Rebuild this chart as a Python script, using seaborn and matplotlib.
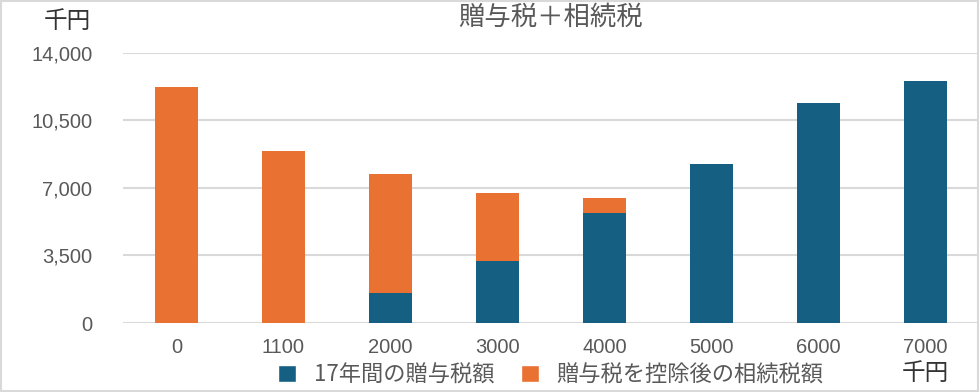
import matplotlib
matplotlib.use("Agg")
import matplotlib.pyplot as plt
from matplotlib.patches import Patch, Rectangle
import seaborn as sns
import pandas as pd

categories = ["0", "1100", "2000", "3000", "4000", "5000", "6000", "7000"]
gift_tax = [0, 0, 1540, 3220, 5700, 8240, 11390, 12530]
inherit_tax = [12220, 8920, 6170, 3490, 760, 0, 0, 0]
yticks = [0, 3500, 7000, 10500, 14000]
title = "贈与税＋相続税"
unit = "千円"
legend_labels = ["17年間の贈与税額", "贈与税を控除後の相続税額"]

BLUE = "#156082"
ORANGE = "#E97132"
GRAY = "#595959"

sns.set_theme(style="white")
plt.rcParams["font.family"] = ["Noto Sans CJK JP", "DejaVu Sans"]

df = pd.DataFrame({
    "cat": categories,
    "gift": gift_tax,
    "total": [g + h for g, h in zip(gift_tax, inherit_tax)],
})

fig = plt.figure(figsize=(9.8, 3.92), dpi=100)
ax = fig.add_axes([0.1255, 0.176, 0.8735, 0.690])

sns.barplot(data=df, x="cat", y="total", order=categories, color=ORANGE,
            saturation=1, width=0.4, ax=ax, zorder=3, linewidth=0)
sns.barplot(data=df, x="cat", y="gift", order=categories, color=BLUE,
            saturation=1, width=0.4, ax=ax, zorder=4, linewidth=0)

ax.set_ylim(0, 14000)
ax.set_xlim(-0.5, len(categories) - 0.5)
ax.set_yticks(yticks)
ax.set_yticklabels([f"{v:,}" for v in yticks])
ax.yaxis.grid(True, color="#d9d9d9", linewidth=1.5, zorder=0)
ax.set_axisbelow(True)
for s in ax.spines.values():
    s.set_visible(False)
ax.set_xlabel("")
ax.set_ylabel("")
ax.tick_params(axis="y", length=0, pad=22, labelsize=14.5, labelcolor=GRAY)
ax.tick_params(axis="x", length=0, pad=11, labelsize=14.5, labelcolor=GRAY)
for lab in ax.get_xticklabels() + ax.get_yticklabels():
    lab.set_family(["Liberation Sans", "DejaVu Sans"])

fig.text(0.562, 0.955, title, ha="center", va="center", fontsize=19, color=GRAY)
fig.text(0.069, 0.945, unit, ha="center", va="center", fontsize=17, color="#333333")
fig.text(0.944, 0.046, unit, ha="center", va="center", fontsize=17, color="#333333")

handles = [Patch(facecolor=BLUE, label=legend_labels[0]),
           Patch(facecolor=ORANGE, label=legend_labels[1])]
leg = fig.legend(handles=handles, loc="center", bbox_to_anchor=(0.562, 0.043),
                 ncol=2, frameon=False, fontsize=16, handlelength=0.8,
                 handleheight=0.8, handletextpad=0.8, columnspacing=1.2,
                 borderpad=0, borderaxespad=0)
for t in leg.get_texts():
    t.set_color(GRAY)

fig.patches.append(Rectangle((0.001, 0.002), 0.997, 0.996, transform=fig.transFigure,
                             fill=False, edgecolor="#d9d9d9", linewidth=1.5))

fig.savefig("out.png", dpi=100)
